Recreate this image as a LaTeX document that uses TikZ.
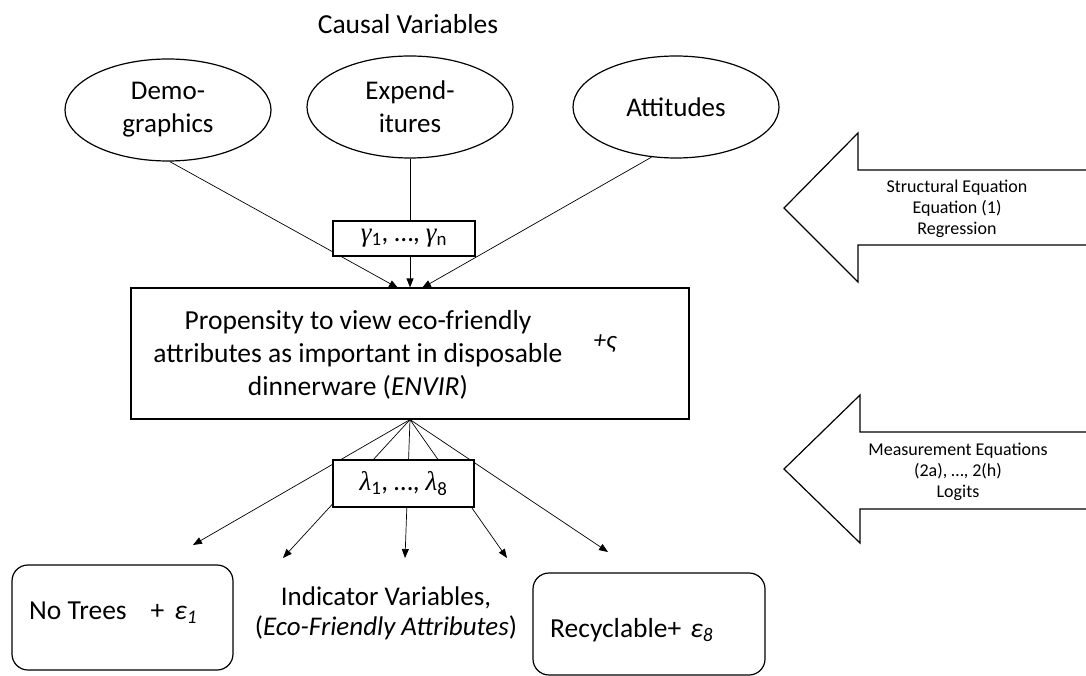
\documentclass[tikz,border=0pt]{standalone}
\usepackage{fontspec}
\setmainfont{Carlito}
\newfontfamily\grk{Liberation Serif}
\usetikzlibrary{shapes.geometric,arrows.meta}
\begin{document}
\begin{tikzpicture}[x=1pt,y=-1pt,
  box/.style={draw, line width=1.2pt, inner sep=0pt, fill=white},
  rbox/.style={draw, line width=1.2pt, inner sep=0pt, rounded corners=16pt},
  ell/.style={draw, ellipse, line width=1.2pt, minimum width=206pt, minimum height=102pt, inner sep=0pt, align=center, font=\fontsize{27}{33}\selectfont},
  conn/.style={line width=0.7pt},
  arr/.style={conn, -{Triangle[length=9pt,width=7pt]}},
  txt/.style={align=center, font=\fontsize{27.5}{33}\selectfont, inner sep=0pt},
  small/.style={align=center, font=\fontsize{18}{21}\selectfont, inner sep=0pt},
  bigarrow/.style={draw, line width=1.2pt, line join=miter}
]
\useasboundingbox (0,0) rectangle (1086,676);

% causal variables
\node[txt] (title) at (408,24) {Causal Variables};
\node[ell] (dem) at (168,110) {Demo-\\graphics};
\node[ell] (exp) at (410,107) {Expend-\\itures};
\node[ell] (att) at (676,107) {Attitudes};

% latent variable box
\node[draw, line width=1.2pt, inner sep=0pt, minimum width=558pt, minimum height=131pt] (main) at (410,353.5) {};
\node[txt] (maintext) at (358,355) {Propensity to view eco-friendly\\attributes as important in disposable\\dinnerware (\textit{ENVIR})};
\node[inner sep=0pt, font=\fontsize{25}{28}\selectfont\itshape] (zeta) at (605,344) {+ς};

% structural connectors
\coordinate (t1) at (398,288);
\coordinate (t3) at (422,288);
\draw[arr] (dem.-88) -- (t1);
\draw[arr] (att.244) -- (t3);
\draw[arr] (exp.south) -- (exp.south |- main.north);
\node[box, minimum width=142pt, minimum height=35pt, font=\fontsize{27}{32}\selectfont] (gam) at (404,238.5) {{\grk\itshape γ}\textsubscript{1}, …, {\grk\itshape γ}\textsubscript{n}};

% measurement connectors
\coordinate (b1) at (193,545);
\coordinate (b2) at (283,558);
\coordinate (b3) at (405,558);
\coordinate (b4) at (507,558);
\coordinate (b5) at (608,552);
\foreach \t in {b1,b2,b3,b4,b5} \draw[arr] (main.south) -- (\t);
\node[box, minimum width=141pt, minimum height=47pt, font=\fontsize{27}{32}\selectfont] (lam) at (403.5,483.5) {{\grk\itshape λ}\textsubscript{1}, …, {\grk\itshape λ}\textsubscript{8}};

% indicators
\node[rbox, minimum width=221pt, minimum height=105pt] (notrees) at (122.5,617.5) {};
\node[txt, anchor=west] (notreestext) at (29,613) {No Trees\hspace{24pt}+\hspace{10pt}\textit{ε\textsubscript{1}}};
\node[txt, font=\fontsize{27}{30}\selectfont] (indic) at (386,613) {Indicator Variables,\\(\textit{Eco-Friendly Attributes})};
\node[rbox, minimum width=232pt, minimum height=102pt] (recyc) at (649,624) {};
\node[txt, anchor=west] (recyctext) at (550,630) {Recyclable+\hspace{9pt}\textit{ε\textsubscript{8}}};

% big arrows
\draw[bigarrow] (1086,170) -- (858,170) -- (858,133) -- (784,208) -- (858,282) -- (858,245) -- (1086,245);
\node[small] (structtext) at (957,209) {Structural Equation\\Equation (1)\\Regression};
\draw[bigarrow] (1086,432) -- (860,432) -- (860,395) -- (784,469) -- (860,543) -- (860,509) -- (1086,509);
\node[small] (meastext) at (958,472) {Measurement Equations\\(2a), …, 2(h)\\Logits};
\end{tikzpicture}
\end{document}
